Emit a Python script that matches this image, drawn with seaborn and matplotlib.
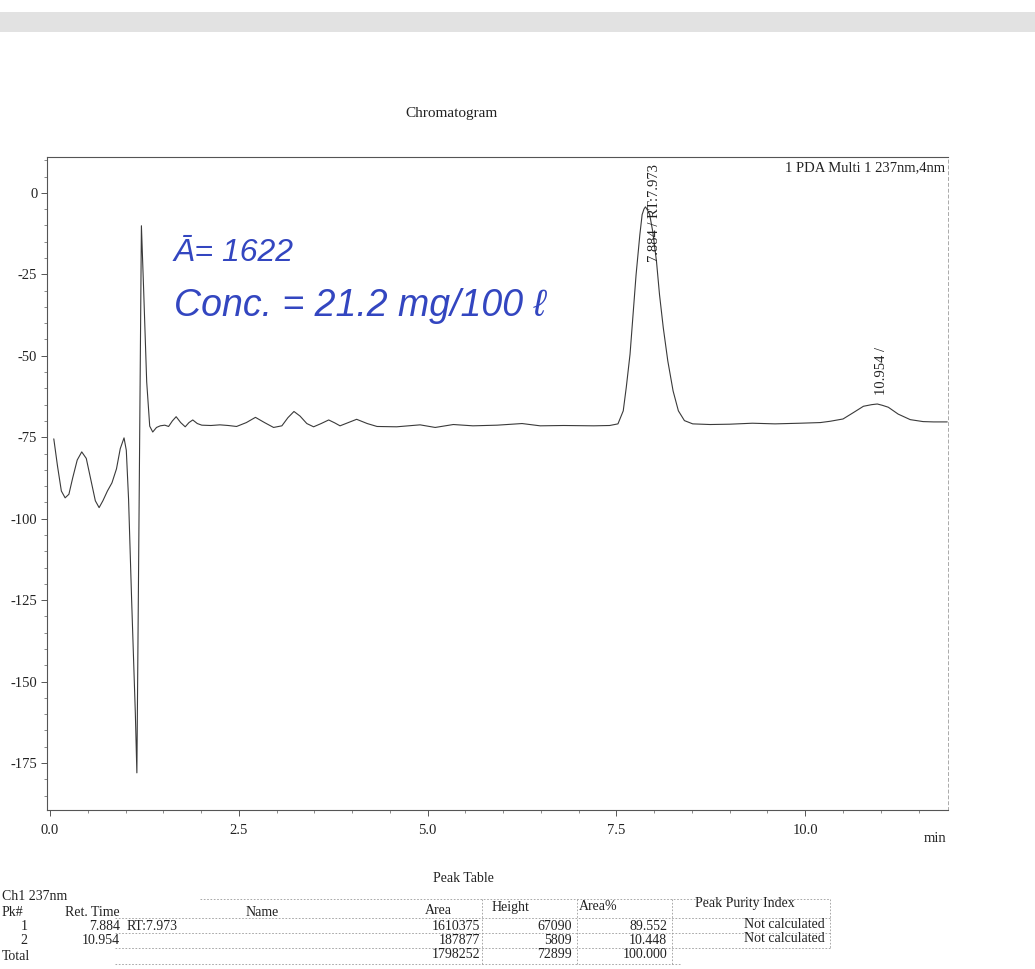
import matplotlib
matplotlib.use("Agg")
import matplotlib.pyplot as plt
from matplotlib.lines import Line2D
from matplotlib.patches import Rectangle
from matplotlib.ticker import MultipleLocator
import seaborn as sns
import pandas as pd

# PDA channel trace (retention time in min, signal in mAU)
time_min = [
    0.05, 0.10, 0.15, 0.20, 0.25, 0.30, 0.36, 0.42, 0.48, 0.54,
    0.60, 0.65, 0.70, 0.76, 0.82, 0.88, 0.93, 0.98, 1.01, 1.04,
    1.08, 1.13, 1.15, 1.18, 1.21, 1.24, 1.28, 1.32, 1.36, 1.41,
    1.46, 1.52, 1.57, 1.62, 1.67, 1.73, 1.79, 1.84, 1.89, 1.95,
    2.01, 2.13, 2.25, 2.36, 2.47, 2.60, 2.72, 2.84, 2.96, 3.07,
    3.15, 3.23, 3.31, 3.40, 3.49, 3.59, 3.69, 3.77, 3.84, 3.95,
    4.06, 4.20, 4.33, 4.59, 4.90, 5.10, 5.34, 5.60, 5.92, 6.25,
    6.49, 6.80, 7.20, 7.41, 7.52, 7.59, 7.63, 7.68, 7.72, 7.76,
    7.81, 7.84, 7.864, 7.884, 7.904, 7.94, 7.98, 8.03, 8.07, 8.12,
    8.18, 8.25, 8.32, 8.40, 8.51, 8.74, 9.00, 9.30, 9.60, 9.93,
    10.20, 10.33, 10.50, 10.64, 10.77, 10.88, 10.954, 11.02, 11.10, 11.23,
    11.39, 11.56, 11.70, 11.88,
]
signal_mau = [
    -75.5, -84.0, -91.5, -93.6, -92.5, -87.5, -82.0, -79.5, -81.5, -88.0,
    -94.5, -96.6, -94.5, -91.5, -89.0, -84.7, -78.5, -75.2, -79.0, -94.0,
    -124.5, -160.0, -178.0, -95.0, -10.1, -30.0, -58.0, -71.6, -73.4, -72.0,
    -71.5, -71.3, -71.7, -70.0, -68.7, -70.5, -71.8, -70.5, -69.7, -70.8,
    -71.3, -71.4, -71.2, -71.4, -71.7, -70.5, -68.9, -70.5, -72.0, -71.5,
    -69.0, -67.1, -68.5, -70.8, -71.8, -70.8, -69.7, -70.6, -71.5, -70.5,
    -69.5, -70.8, -71.7, -71.8, -71.2, -72.0, -71.1, -71.5, -71.3, -70.8,
    -71.5, -71.4, -71.5, -71.4, -70.9, -66.9, -59.7, -49.5, -37.3, -25.1,
    -12.8, -6.7, -5.0, -4.3, -5.0, -6.7, -11.8, -21.0, -31.2, -41.4,
    -51.6, -60.8, -66.9, -69.9, -70.9, -71.1, -71.0, -70.7, -70.9, -70.7,
    -70.5, -70.1, -69.4, -67.4, -65.5, -65.0, -64.8, -65.2, -65.8, -67.9,
    -69.6, -70.2, -70.3, -70.3,
]

# Peak table
peak_no = ["1", "2"]
ret_time = ["7.884", "10.954"]
peak_name = ["RT:7.973", ""]
peak_area = ["1610375", "187877"]
peak_height = ["67090", "5809"]
area_pct = ["89.552", "10.448"]
purity = ["Not calculated", "Not calculated"]
total_area = "1798252"
total_height = "72899"
total_pct = "100.000"

# Peak labels drawn next to each apex
peak_labels = ["7.884 / RT:7.973", "10.954 /"]
peak_label_x = [8.00, 11.01]
peak_label_y = [-21.2, -62.0]

x_ticks = [0.0, 2.5, 5.0, 7.5, 10.0]
x_tick_labels = ["0.0", "2.5", "5.0", "7.5", "10.0"]
y_ticks = [0, -25, -50, -75, -100, -125, -150, -175]

sns.set_theme(style="ticks")
plt.rcParams["font.family"] = ["Liberation Serif", "DejaVu Serif"]
plt.rcParams["axes.unicode_minus"] = False

W, H = 1035, 969
fig = plt.figure(figsize=(W / 100, H / 100), dpi=100)
fig.patch.set_facecolor("white")


def fx(px):
    return px / W


def fy(py):
    return 1 - py / H


# light band along the top edge of the sheet
fig.add_artist(Rectangle((0, fy(32)), 1, 20 / H, transform=fig.transFigure,
                         facecolor="#e2e2e2", edgecolor="none"))

ax = fig.add_axes([fx(47), fy(810), fx(948) - fx(47), fy(157) - fy(810)])
trace = pd.DataFrame({"time": time_min, "signal": signal_mau})
sns.lineplot(data=trace, x="time", y="signal", ax=ax, color="#3a3a3a",
             linewidth=0.8, estimator=None, sort=False)

ax.set_xlim(-0.04, 11.89)
ax.set_ylim(-189.4, 11.0)
ax.set_xticks(x_ticks)
ax.set_xticklabels(x_tick_labels)
ax.set_yticks(y_ticks)
ax.set_yticklabels([str(v) for v in y_ticks])
ax.xaxis.set_minor_locator(MultipleLocator(0.5))
ax.yaxis.set_minor_locator(MultipleLocator(5))
ax.tick_params(axis="both", which="major", direction="out", length=4,
               width=0.7, color="#555555", labelsize=10.5, labelcolor="#222222", pad=3)
ax.tick_params(axis="both", which="minor", direction="out", length=2.5,
               width=0.6, color="#777777")
ax.tick_params(axis="x", pad=6)
ax.set_xlabel("")
ax.set_ylabel("")

for side in ["left", "bottom", "top"]:
    ax.spines[side].set_color("#555555")
    ax.spines[side].set_linewidth(0.8)
ax.spines["left"].set_linestyle((0, (4, 1)))
ax.spines["right"].set_color("#aaaaaa")
ax.spines["right"].set_linewidth(0.7)
ax.spines["right"].set_linestyle((0, (3, 3)))

for lab, lx, ly in zip(peak_labels, peak_label_x, peak_label_y):
    ax.text(lx, ly, lab, rotation=90, ha="center", va="bottom",
            fontsize=10.5, color="#222222")

ax.text(0.997, 0.983, "1 PDA Multi 1 237nm,4nm", transform=ax.transAxes,
        ha="right", va="center", fontsize=10.5, color="#222222")

fig.text(fx(452), fy(113), "Chromatogram", ha="center", va="center",
         fontsize=11, color="#222222")
fig.text(fx(935), fy(838), "min", ha="center", va="center",
         fontsize=10.5, color="#222222")

# handwritten notes in blue ink
ink = "#3346c0"
hand = ["Liberation Sans", "DejaVu Sans"]
fig.text(fx(174), fy(253), "Ā= 1622", ha="left", va="center", fontsize=23,
         style="italic", color=ink, family=hand)
fig.text(fx(174), fy(306), "Conc. = 21.2 mg/100 ℓ", ha="left", va="center",
         fontsize=27, style="italic", color=ink, family=hand)

# peak table
txt = dict(fontsize=10, color="#222222", va="center")
fig.text(fx(463), fy(878), "Peak Table", ha="center", **txt)
fig.text(fx(2), fy(897), "Ch1 237nm", ha="left", **txt)
fig.text(fx(2), fy(912), "Pk#", ha="left", **txt)
fig.text(fx(92), fy(912), "Ret. Time", ha="center", **txt)
fig.text(fx(262), fy(912), "Name", ha="center", **txt)
fig.text(fx(438), fy(910), "Area", ha="center", **txt)
fig.text(fx(510), fy(908), "Height", ha="center", **txt)
fig.text(fx(598), fy(906), "Area%", ha="center", **txt)
fig.text(fx(745), fy(903), "Peak Purity Index", ha="center", **txt)

row_y = [926, 941]
for i, ry in enumerate(row_y):
    fig.text(fx(24), fy(ry), peak_no[i], ha="center", **txt)
    fig.text(fx(120), fy(ry), ret_time[i], ha="right", **txt)
    fig.text(fx(127), fy(ry), peak_name[i], ha="left", **txt)
    fig.text(fx(480), fy(ry), peak_area[i], ha="right", **txt)
    fig.text(fx(572), fy(ry), peak_height[i], ha="right", **txt)
    fig.text(fx(667), fy(ry), area_pct[i], ha="right", **txt)
    fig.text(fx(825), fy(ry - 2), purity[i], ha="right", **txt)
fig.text(fx(2), fy(957), "Total", ha="left", **txt)
fig.text(fx(480), fy(955), total_area, ha="right", **txt)
fig.text(fx(572), fy(955), total_height, ha="right", **txt)
fig.text(fx(667), fy(954), total_pct, ha="right", **txt)

grid_kw = dict(transform=fig.transFigure, color="#9a9a9a", linewidth=0.6,
               linestyle=(0, (2, 2)))
for (x0, x1, yy) in [(200, 830, 899), (115, 830, 918), (115, 830, 933),
                     (115, 830, 948), (115, 680, 964)]:
    fig.add_artist(Line2D([fx(x0), fx(x1)], [fy(yy), fy(yy)], **grid_kw))
for (xx, y0, y1) in [(482, 899, 964), (577, 899, 964), (672, 899, 964),
                     (830, 899, 948)]:
    fig.add_artist(Line2D([fx(xx), fx(xx)], [fy(y0), fy(y1)], **grid_kw))

fig.savefig("out.png", dpi=100, facecolor="white")
